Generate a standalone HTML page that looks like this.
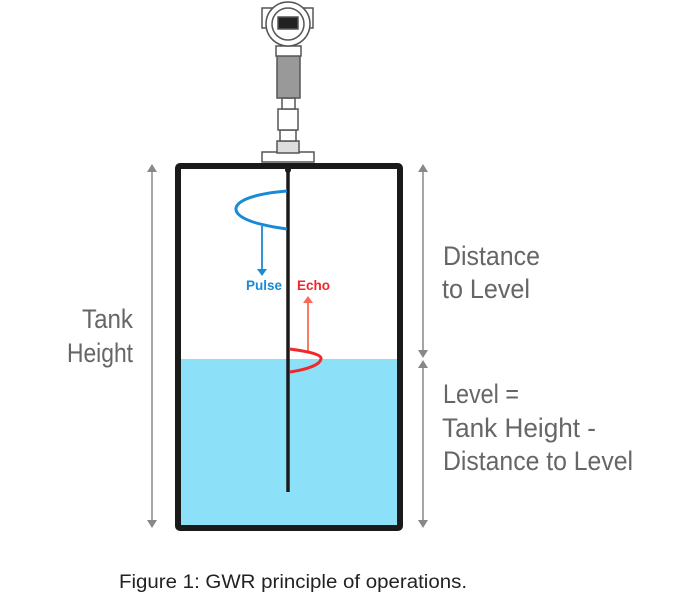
<!DOCTYPE html>
<html><head><style>body{margin:0;background:#fff}svg{display:block}</style></head><body>
<svg width="696" height="600" viewBox="0 0 696 600" xmlns="http://www.w3.org/2000/svg" font-family="'Liberation Sans Narrow','Liberation Sans',sans-serif">
<!-- water -->
<rect x="179" y="359" width="218" height="168" fill="#8ce0f8"/>
<!-- tank -->
<rect x="178" y="166" width="222" height="362" fill="none" stroke="#1a1a1a" stroke-width="6" rx="2"/>
<!-- transmitter -->
<g stroke="#555" stroke-width="1.5" fill="#fff">
<rect x="262" y="152" width="52" height="10"/>
<rect x="277" y="141" width="22" height="12" fill="#ddd"/>
<rect x="280" y="130" width="16" height="11"/>
<rect x="278" y="109" width="20" height="21"/>
<rect x="282" y="98" width="13" height="11"/>
<rect x="277" y="55" width="23" height="43" fill="#999"/>
<rect x="276" y="46" width="25" height="10"/>
<rect x="262" y="8" width="12" height="20"/>
<rect x="301" y="8" width="12" height="20"/>
<circle cx="288" cy="24" r="22"/>
<circle cx="288" cy="24" r="16"/>
<rect x="278" y="17" width="20" height="12" fill="#222"/>
</g>
<!-- probe -->
<line x1="288" y1="166" x2="288" y2="492" stroke="#1a1a1a" stroke-width="3.5"/>
<circle cx="288" cy="170" r="3" fill="#1a1a1a"/>
<!-- pulse -->
<path d="M287,191 C250,194 235,202 236,210 C238,219 258,225 287,229" fill="none" stroke="#1a8ad4" stroke-width="3"/>
<line x1="262" y1="226" x2="262" y2="270" stroke="#1a8ad4" stroke-width="1.8"/>
<path d="M257,269 L267,269 L262,276 Z" fill="#1a8ad4"/>
<text x="246" y="290" font-size="14" font-weight="bold" fill="#1a8ad4" textLength="36" lengthAdjust="spacingAndGlyphs">Pulse</text>
<text x="297" y="290" font-size="14" font-weight="bold" fill="#f0282a" textLength="33" lengthAdjust="spacingAndGlyphs">Echo</text>
<!-- echo -->
<line x1="308" y1="353" x2="308" y2="302" stroke="#f56a5a" stroke-width="1.8"/>
<path d="M303,303 L313,303 L308,296 Z" fill="#f56a5a"/>
<path d="M290,349 C312,352 322,355 321,359 C320,364 310,369 290,372" fill="none" stroke="#f0282a" stroke-width="3"/>
<!-- dimension lines -->
<g stroke="#888" stroke-width="1.5">
<line x1="152" y1="168" x2="152" y2="524"/>
<line x1="423" y1="168" x2="423" y2="354"/>
<line x1="423" y1="364" x2="423" y2="524"/>
</g>
<g fill="#888">
<path d="M147,172 L157,172 L152,164 Z"/>
<path d="M147,520 L157,520 L152,528 Z"/>
<path d="M418,172 L428,172 L423,164 Z"/>
<path d="M418,350 L428,350 L423,358 Z"/>
<path d="M418,368 L428,368 L423,360 Z"/>
<path d="M418,520 L428,520 L423,528 Z"/>
</g>
<g fill="#666" font-size="27">
<text x="82" y="328" textLength="51" lengthAdjust="spacingAndGlyphs">Tank</text>
<text x="67" y="362" textLength="66" lengthAdjust="spacingAndGlyphs">Height</text>
<text x="443" y="265" textLength="97" lengthAdjust="spacingAndGlyphs">Distance</text>
<text x="442" y="298" textLength="88" lengthAdjust="spacingAndGlyphs">to Level</text>
<text x="443" y="403" textLength="76" lengthAdjust="spacingAndGlyphs">Level =</text>
<text x="442" y="437" textLength="154" lengthAdjust="spacingAndGlyphs">Tank Height -</text>
<text x="443" y="470" textLength="190" lengthAdjust="spacingAndGlyphs">Distance to Level</text>
</g>
<text x="119" y="588" font-size="19" fill="#222" textLength="348" lengthAdjust="spacingAndGlyphs">Figure 1: GWR principle of operations.</text>
</svg>
</body></html>
